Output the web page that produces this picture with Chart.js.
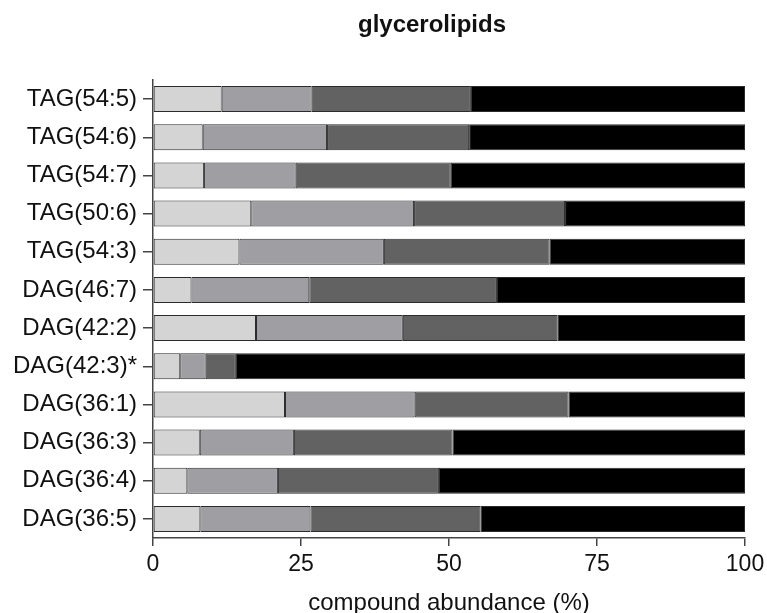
<!DOCTYPE html>
<html>
<head>
<meta charset="utf-8">
<script src="https://cdn.jsdelivr.net/npm/chart.js@4"></script>
<style>
  html, body { margin: 0; padding: 0; background: #fff; }
  #wrap { width: 767px; height: 613px; }
</style>
</head>
<body>
<div id="wrap"><canvas id="chart" width="767" height="613"></canvas></div>
<script>
// ——— data (percent of compound abundance) ———
var categories = ["TAG(54:5)", "TAG(54:6)", "TAG(54:7)", "TAG(50:6)", "TAG(54:3)", "DAG(46:7)",
  "DAG(42:2)", "DAG(42:3)*", "DAG(36:1)", "DAG(36:3)", "DAG(36:4)", "DAG(36:5)"];
var seg1 = [11.6, 8.4, 8.6, 16.6, 14.6, 6.5, 17.4, 4.6, 22.3, 7.9, 5.8, 8.0];
var seg2 = [15.2, 21.0, 15.5, 27.5, 24.4, 19.9, 24.8, 4.3, 21.9, 15.9, 15.3, 18.6];
var seg3 = [26.9, 24.0, 26.2, 25.5, 28.0, 31.7, 26.1, 5.1, 26.0, 26.8, 27.2, 28.7];
var seg4 = [46.3, 46.6, 49.7, 30.4, 33.0, 41.9, 31.7, 86.0, 29.8, 49.4, 51.7, 44.7];
var xTicks = [0, 25, 50, 75, 100];
var chartTitle = "glycerolipids";
var xTitle = "compound abundance (%)";

var FONT = "'Liberation Sans', Arial, Helvetica, sans-serif";
var AXIS = "#444";

function makeSet(values, color) {
  return {
    data: values,
    backgroundColor: color,
    borderColor: "#2b2b2b",
    borderWidth: 1,
    borderSkipped: false,
    barPercentage: 0.68,
    categoryPercentage: 1.0
  };
}

// title drawn over the plot, like the original figure
var titlePlugin = {
  id: "figTitle",
  afterDraw: function (chart) {
    var ctx = chart.ctx;
    ctx.save();
    ctx.font = "bold 24px " + FONT;
    ctx.fillStyle = "#111";
    ctx.textAlign = "center";
    ctx.textBaseline = "alphabetic";
    ctx.fillText(chartTitle, 432, 32);
    ctx.restore();
  }
};

new Chart(document.getElementById("chart"), {
  type: "bar",
  data: {
    labels: categories,
    datasets: [
      makeSet(seg1, "#d4d4d4"),
      makeSet(seg2, "#9f9ea3"),
      makeSet(seg3, "#626262"),
      makeSet(seg4, "#000000")
    ]
  },
  options: {
    indexAxis: "y",
    responsive: false,
    animation: false,
    layout: { padding: { top: 80, right: 22, left: 0, bottom: 0 } },
    plugins: {
      legend: { display: false },
      tooltip: { enabled: false }
    },
    scales: {
      x: {
        stacked: true,
        min: 0,
        max: 100,
        afterBuildTicks: function (scale) {
          scale.ticks = xTicks.map(function (v) { return { value: v }; });
        },
        afterFit: function (scale) {
          scale.height = 75;
          scale.paddingLeft = 0;
          scale.paddingRight = 0;
        },
        grid: { drawOnChartArea: false, drawTicks: true, tickLength: 8, color: AXIS, lineWidth: 1.5 },
        border: { display: true, color: AXIS, width: 1.5 },
        ticks: { color: "#111", font: { family: FONT, size: 23 }, padding: 5, maxRotation: 0 },
        title: {
          display: true,
          text: xTitle,
          color: "#111",
          font: { family: FONT, size: 24, lineHeight: 1 },
          padding: { top: 0, bottom: -2 }
        }
      },
      y: {
        stacked: true,
        afterFit: function (scale) { scale.width = 153; },
        grid: { offset: false, drawOnChartArea: false, drawTicks: true, tickLength: 10, color: AXIS, lineWidth: 1.5 },
        border: { display: true, color: AXIS, width: 1.5 },
        ticks: { color: "#111", font: { family: FONT, size: 24 }, padding: 6, autoSkip: false }
      }
    }
  },
  plugins: [titlePlugin]
});
</script>
</body>
</html>
